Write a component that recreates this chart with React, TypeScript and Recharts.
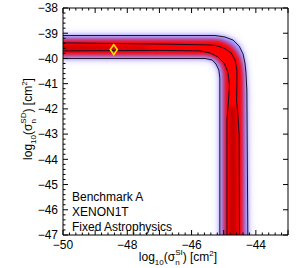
import React from 'react';
import { ComposedChart, Area, Line, Scatter, XAxis, YAxis, Label } from 'recharts';

const FONT = '"Liberation Sans", Arial, Helvetica, sans-serif';

// axis labels
const xTickLabels = [-50, -48, -46, -44];
const yTickLabels = [-38, -39, -40, -41, -42, -43, -44, -45, -46, -47];

// outer (95%) contour region, lower/upper log10(sigma_SD) along log10(sigma_SI)
const outerRegion = [
  { x: -50.5, r: [-40.0, -39.09] },
  { x: -45.58, r: [-40.0, -39.09] },
  { x: -45.36, r: [-40.06, -39.09] },
  { x: -45.24, r: [-40.22, -39.09] },
  { x: -45.15, r: [-40.46, -39.1] },
  { x: -45.12, r: [-40.78, -39.1] },
  { x: -45.12, r: [-47.5, -39.1] },
  { x: -44.96, r: [-47.5, -39.15] },
  { x: -44.71, r: [-47.5, -39.27] },
  { x: -44.52, r: [-47.5, -39.51] },
  { x: -44.4, r: [-47.5, -39.82] },
  { x: -44.34, r: [-47.5, -40.18] },
  { x: -44.31, r: [-47.5, -40.54] },
  { x: -44.28, r: [-47.5, -41.25] },
  { x: -44.25, r: [-47.5, -47.5] },
];

// high posterior (red) region
const redRegion = [
  { x: -50.5, r: [-39.87, -39.26] },
  { x: -45.55, r: [-39.87, -39.26] },
  { x: -45.3, r: [-39.95, -39.26] },
  { x: -45.15, r: [-40.1, -39.28] },
  { x: -45.05, r: [-40.3, -39.31] },
  { x: -45.0, r: [-40.58, -39.34] },
  { x: -44.99, r: [-40.85, -39.35] },
  { x: -44.99, r: [-47.5, -39.35] },
  { x: -44.8, r: [-47.5, -39.47] },
  { x: -44.62, r: [-47.5, -39.7] },
  { x: -44.49, r: [-47.5, -39.98] },
  { x: -44.43, r: [-47.5, -40.3] },
  { x: -44.4, r: [-47.5, -40.66] },
];

// darkest cores
const coreLeft = [
  { x: -50.5, r: [-39.67, -39.5] },
  { x: -47.3, r: [-39.63, -39.56] },
];
const coreDown = [
  { x: -44.8, r: [-47.5, -41.9] },
  { x: -44.63, r: [-47.5, -41.9] },
];

// contour lines
const outerUpper = [
  { x: -50, y: -39.09 }, { x: -45.27, y: -39.09 }, { x: -44.96, y: -39.15 },
  { x: -44.71, y: -39.27 }, { x: -44.52, y: -39.51 }, { x: -44.4, y: -39.82 },
  { x: -44.34, y: -40.18 }, { x: -44.31, y: -40.54 }, { x: -44.28, y: -41.25 },
  { x: -44.25, y: -47 },
];
const outerLower = [
  { x: -50, y: -40.0 }, { x: -45.58, y: -40.0 }, { x: -45.36, y: -40.06 },
  { x: -45.24, y: -40.22 }, { x: -45.15, y: -40.46 }, { x: -45.12, y: -40.78 },
  { x: -45.12, y: -47 },
];
const innerUpper = [
  { x: -50, y: -39.38 }, { x: -47, y: -39.43 }, { x: -45.58, y: -39.46 },
  { x: -45.27, y: -39.48 }, { x: -44.99, y: -39.59 }, { x: -44.77, y: -39.78 },
  { x: -44.65, y: -40.06 }, { x: -44.59, y: -40.46 }, { x: -44.59, y: -41.05 },
  { x: -44.6, y: -41.65 }, { x: -44.56, y: -42.24 }, { x: -44.52, y: -43.04 },
  { x: -44.51, y: -47 },
];
const innerLower = [
  { x: -50, y: -39.7 }, { x: -47, y: -39.68 }, { x: -45.74, y: -39.7 },
  { x: -45.43, y: -39.78 }, { x: -45.18, y: -39.94 }, { x: -44.99, y: -40.18 },
  { x: -44.87, y: -40.54 }, { x: -44.82, y: -41.05 }, { x: -44.85, y: -41.65 },
  { x: -44.9, y: -42.44 }, { x: -44.9, y: -47 },
];

const bestFit = [{ x: -48.42, y: -39.65 }];

// minor ticks every 0.2
const xTicks: number[] = [];
for (let i = 0; i <= 35; i++) xTicks.push(Math.round((-50 + i * 0.2) * 10) / 10);
const yTicks: number[] = [];
for (let i = 0; i <= 45; i++) yTicks.push(Math.round((-47 + i * 0.2) * 10) / 10);

const fmt = (v: number) => (v < 0 ? '\u2212' : '') + Math.abs(v);
const isMajor = (v: number) => Math.abs(v - Math.round(v)) < 1e-6;

const BottomTick = ({ x, y, payload }: any) => {
  const v = payload.value;
  const major = isMajor(v);
  return (
    <g>
      <line x1={x} x2={x} y1={y} y2={y - (major ? 5 : 2.5)} stroke="#000" />
      {major && xTickLabels.includes(Math.round(v)) && (
        <text x={x} y={y + 13.5} textAnchor="middle" fontSize={12} fontFamily={FONT} fill="#000">
          {fmt(Math.round(v))}
        </text>
      )}
    </g>
  );
};

const TopTick = ({ x, y, payload }: any) => {
  const major = isMajor(payload.value);
  return <line x1={x} x2={x} y1={y} y2={y + (major ? 5 : 2.5)} stroke="#000" />;
};

const LeftTick = ({ x, y, payload }: any) => {
  const v = payload.value;
  const major = isMajor(v);
  return (
    <g>
      <line x1={x} x2={x + (major ? 5 : 2.5)} y1={y} y2={y} stroke="#000" />
      {major && (
        <text x={x - 5} y={y + 4.3} textAnchor="end" fontSize={12} fontFamily={FONT} fill="#000">
          {fmt(Math.round(v))}
        </text>
      )}
    </g>
  );
};

const RightTick = ({ x, y }: any) => <line x1={x} x2={x - 5} y1={y} y2={y} stroke="#000" />;

const XTitle = () => (
  <text x={178} y={260.5} textAnchor="middle" fontSize={12} fontFamily={FONT} fill="#000">
    log<tspan dy={4} fontSize={8}>10</tspan>
    <tspan dy={-4}>(σ</tspan>
    <tspan dy={4} fontSize={8}>n</tspan>
    <tspan dx={-4.5} dy={-9.5} fontSize={8}>SI</tspan>
    <tspan dy={5.5}>) [cm</tspan>
    <tspan dy={-5} fontSize={8}>2</tspan>
    <tspan dy={5}>]</tspan>
  </text>
);

const YTitle = () => (
  <text
    transform="translate(32,119) rotate(-90)"
    x={0}
    y={0}
    textAnchor="middle"
    fontSize={12}
    fontFamily={FONT}
    fill="#000"
  >
    log<tspan dy={4} fontSize={8}>10</tspan>
    <tspan dy={-4}>(σ</tspan>
    <tspan dy={4} fontSize={8}>n</tspan>
    <tspan dx={-4.5} dy={-10} fontSize={8}>SD</tspan>
    <tspan dy={6}>) [cm</tspan>
    <tspan dy={-5} fontSize={8}>2</tspan>
    <tspan dy={5}>]</tspan>
  </text>
);

const Annotation = () => (
  <text fontSize={12} fontFamily={FONT} fill="#000">
    <tspan x={72} y={201}>Benchmark A</tspan>
    <tspan x={72} y={216}>XENON1T</tspan>
    <tspan x={72} y={231}>Fixed Astrophysics</tspan>
  </text>
);

const Diamond = ({ cx, cy }: any) => (
  <path
    d={`M${cx},${cy - 5} L${cx + 3.5},${cy} L${cx},${cy + 5} L${cx - 3.5},${cy} Z`}
    fill="none"
    stroke="#ffe400"
    strokeWidth={1.6}
  />
);

const regionStyle = {
  type: 'linear' as const,
  dataKey: 'r',
  fillOpacity: 1,
  stroke: 'none',
  dot: false,
  activeDot: false,
  isAnimationActive: false,
};

export default function App() {
  return (
    <div style={{ position: 'absolute', left: 0, top: 0, width: 299, height: 268, background: '#fff' }}>
      <ComposedChart width={299} height={268} margin={{ top: 0, right: 0, bottom: 0, left: 0 }}>
        <defs>
          <filter id="blurHalo" x="-20%" y="-20%" width="140%" height="140%">
            <feGaussianBlur stdDeviation={5} />
          </filter>
          <filter id="blurWide" x="-20%" y="-20%" width="140%" height="140%">
            <feGaussianBlur stdDeviation={2.5} />
          </filter>
          <filter id="blurMid" x="-20%" y="-20%" width="140%" height="140%">
            <feGaussianBlur stdDeviation={2} />
          </filter>
          <filter id="blurCore" x="-50%" y="-50%" width="200%" height="200%">
            <feGaussianBlur stdDeviation={2} />
          </filter>
        </defs>
        <XAxis
          dataKey="x"
          type="number"
          domain={[-50, -43]}
          allowDataOverflow
          ticks={xTicks}
          interval={0}
          height={33}
          tickSize={0}
          tickMargin={0}
          tick={<BottomTick />}
          axisLine={{ stroke: '#000' }}
        >
          <Label content={<XTitle />} />
        </XAxis>
        <XAxis
          xAxisId="top"
          orientation="top"
          dataKey="x"
          type="number"
          domain={[-50, -43]}
          allowDataOverflow
          ticks={xTicks}
          interval={0}
          height={8}
          tickSize={0}
          tickMargin={0}
          tick={<TopTick />}
          axisLine={{ stroke: '#000' }}
        />
        <YAxis
          type="number"
          domain={[-47, -38]}
          allowDataOverflow
          ticks={yTicks}
          interval={0}
          width={63}
          tickSize={0}
          tickMargin={0}
          tick={<LeftTick />}
          axisLine={{ stroke: '#000' }}
        >
          <Label content={<YTitle />} />
          <Label content={<Annotation />} />
        </YAxis>
        <YAxis
          yAxisId="right"
          orientation="right"
          type="number"
          domain={[-47, -38]}
          allowDataOverflow
          ticks={yTickLabels}
          interval={0}
          width={11}
          tickSize={0}
          tickMargin={0}
          tick={<RightTick />}
          axisLine={{ stroke: '#000' }}
        />
        <Area {...regionStyle} data={outerRegion} fill="#cfc8ff" filter="url(#blurHalo)" />
        <Area {...regionStyle} data={outerRegion} fill="#8c80ff" filter="url(#blurWide)" />
        <Area {...regionStyle} data={redRegion} fill="#ff0000" filter="url(#blurMid)" />
        <Area {...regionStyle} data={coreLeft} fill="#b00000" filter="url(#blurCore)" />
        <Area {...regionStyle} data={coreDown} fill="#b80000" filter="url(#blurCore)" />
        {[outerUpper, outerLower, innerUpper, innerLower].map((d, i) => (
          <Line
            key={i}
            data={d}
            dataKey="y"
            type="linear"
            stroke="#1a1028"
            strokeWidth={1}
            dot={false}
            activeDot={false}
            isAnimationActive={false}
          />
        ))}
        <Scatter data={bestFit} dataKey="y" shape={<Diamond />} isAnimationActive={false} />
      </ComposedChart>
    </div>
  );
}
